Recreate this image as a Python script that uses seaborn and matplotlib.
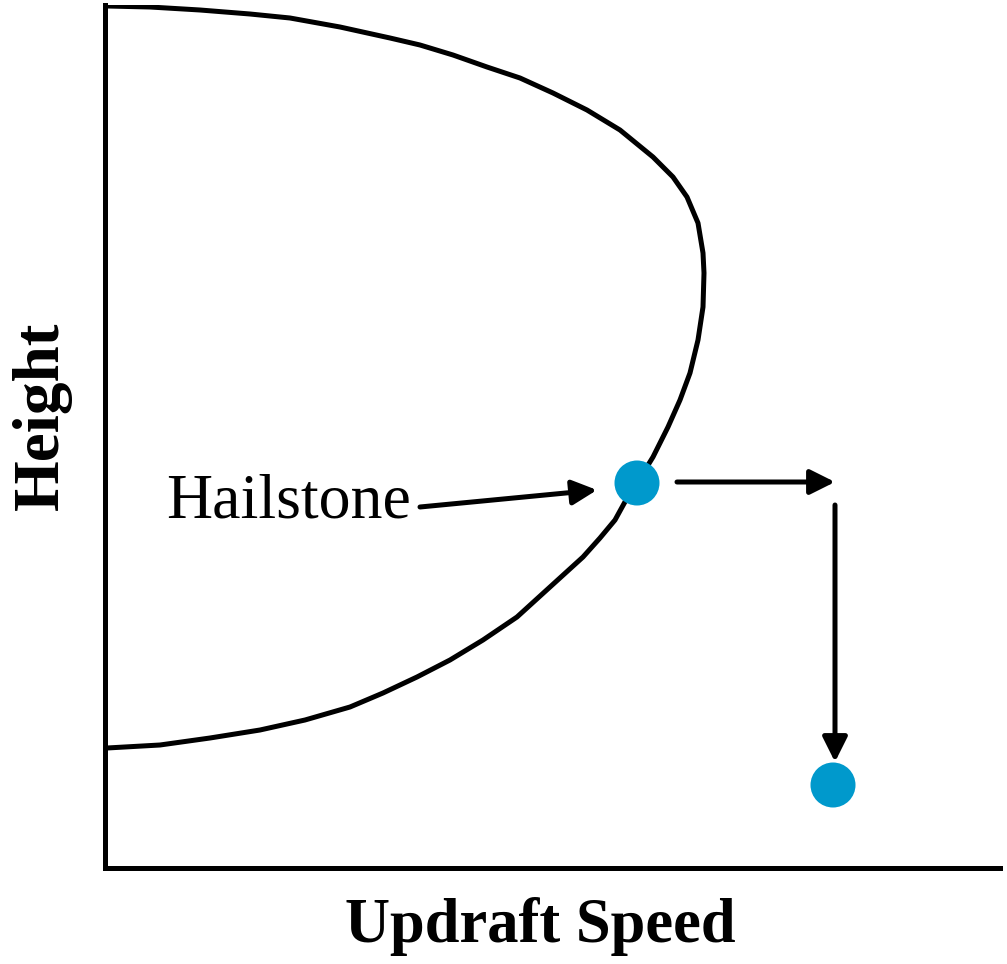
import numpy as np
import pandas as pd
import seaborn as sns
import matplotlib.pyplot as plt

# updraft profile (speed, height in arbitrary units)
speed = [2, 45, 95, 145, 185, 235, 285, 315, 348, 382, 415, 448, 482, 515,
         548, 568, 582, 593, 598, 599, 598, 593, 585, 575, 563, 548, 532,
         521, 510, 495, 478, 445, 412, 378, 345, 312, 278, 245, 200, 155,
         105, 55, 2]
height = [862, 861, 858, 854, 850, 841, 830, 823, 813, 801, 790, 775, 758, 738,
          711, 691, 671, 645, 615, 595, 561, 528, 495, 468, 441, 411, 385,
          368, 348, 330, 311, 281, 251, 228, 208, 191, 175, 161, 148, 138,
          130, 123, 120]

# hailstone positions: on the curve, and after falling out
stone_speed = [532, 728]
stone_height = [385, 83]

# arrows: (x_start, y_start, x_end, y_end)
arrows = [
    (315, 361, 492, 378),   # label -> hailstone
    (572, 386, 730, 386),   # pushed right
    (730, 363, 730, 106),   # falls down
]

df = pd.DataFrame({'speed': speed, 'height': height})
stones = pd.DataFrame({'speed': stone_speed, 'height': stone_height})

sns.set_style('white')
plt.rcParams['font.family'] = ['Liberation Serif', 'DejaVu Serif']
plt.rcParams['text.color'] = 'black'
plt.rcParams['axes.labelcolor'] = 'black'

W, H = 1007, 964
fig = plt.figure(figsize=(W / 100, H / 100), dpi=100)
ax = fig.add_axes([105 / W, (H - 868) / H, 895 / W, 863 / H])

sns.lineplot(data=df, x='speed', y='height', sort=False, estimator=None,
             color='black', linewidth=3.6, ax=ax)
ax.lines[0].set_solid_joinstyle('round')
sns.scatterplot(data=stones, x='speed', y='height', s=1050, color='#0099cc',
                edgecolor='none', zorder=5, ax=ax)

for x0, y0, x1, y1 in arrows:
    ax.annotate('', xy=(x1, y1), xytext=(x0, y0),
                arrowprops=dict(arrowstyle='-|>,head_length=1.0,head_width=0.5',
                                mutation_scale=15, color='black', lw=3.6,
                                shrinkA=0, shrinkB=0))

ax.text(184, 365, 'Hailstone', fontsize=46, ha='center', va='center')

ax.set_xlim(0, 895)
ax.set_ylim(0, 863)
ax.set_xticks([])
ax.set_yticks([])
for side in ['top', 'right']:
    ax.spines[side].set_visible(False)
for side in ['left', 'bottom']:
    ax.spines[side].set_linewidth(3.6)
    ax.spines[side].set_color('black')

ax.set_xlabel('Updraft Speed', fontsize=45, fontweight='bold', va='center')
ax.set_ylabel('Height', fontsize=47, fontweight='bold', va='center')
ax.xaxis.set_label_coords(0.486, -0.068)
ax.yaxis.set_label_coords(-0.070, 0.524)

fig.savefig('out.png', dpi=100, facecolor='white')
